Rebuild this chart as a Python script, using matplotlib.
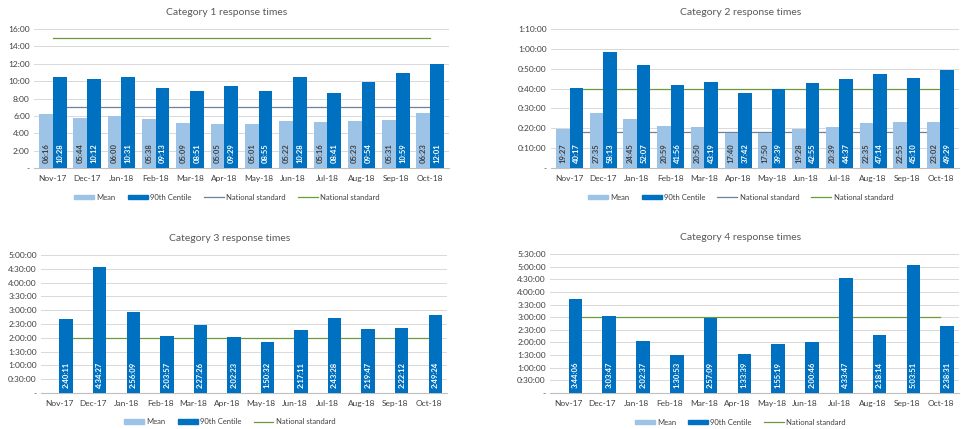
# coding: utf-8
# !/usr/bin/env python

import matplotlib
matplotlib.use("Agg")
import matplotlib.pyplot as plt
import matplotlib.patches as mpatches
import matplotlib.lines as mlines
import numpy as np

from matplotlib.ticker import FuncFormatter, MultipleLocator


# # # # # # # # # # # # # # # # # # # # # # # # # # # # # # # # # # # # # # #
# data
# # # # # # # # # # # # # # # # # # # # # # # # # # # # # # # # # # # # # # #
months = ["Nov-17", "Dec-17", "Jan-18", "Feb-18", "Mar-18", "Apr-18",
          "May-18", "Jun-18", "Jul-18", "Aug-18", "Sep-18", "Oct-18"]

cat1_mean = ["06:16", "05:44", "06:00", "05:38", "05:09", "05:05",
             "05:01", "05:22", "05:16", "05:23", "05:31", "06:23"]
cat1_p90 = ["10:28", "10:12", "10:31", "09:13", "08:51", "09:29",
            "08:55", "10:28", "08:41", "09:54", "10:59", "12:01"]
cat1_standards = ["7:00", "15:00"]

cat2_mean = ["19:27", "27:35", "24:45", "20:59", "20:50", "17:40",
             "17:50", "19:28", "20:39", "22:35", "22:55", "23:02"]
cat2_p90 = ["40:17", "58:13", "52:07", "41:56", "43:19", "37:42",
            "39:39", "42:55", "44:37", "47:14", "45:10", "49:29"]
cat2_standards = ["18:00", "40:00"]

cat3_p90 = ["2:40:11", "4:34:27", "2:56:09", "2:03:57", "2:27:26", "2:02:23",
            "1:50:32", "2:17:11", "2:43:28", "2:19:47", "2:22:12", "2:49:24"]
cat3_standards = ["2:00:00"]

cat4_p90 = ["3:44:06", "3:03:47", "2:02:37", "1:30:53", "2:57:09", "1:33:39",
            "1:55:19", "2:00:46", "4:33:47", "2:18:14", "5:03:51", "2:38:31"]
cat4_standards = ["3:00:00"]

LIGHT = "#9DC3E6"
DARK = "#0070C0"
GREY_LINE = "#6F819A"
GREEN_LINE = "#6A9A3A"
TEXT = "#595959"

plt.rcParams["font.family"] = ["Lato", "DejaVu Sans"]


# # # # # # # # # # # # # # # # # # # # # # # # # # # # # # # # # # # # # # #
# functions
# # # # # # # # # # # # # # # # # # # # # # # # # # # # # # # # # # # # # # #
def to_seconds(text):
    """Convert "mm:ss" or "h:mm:ss" to seconds."""
    total = 0
    for part in text.split(":"):
        total = total * 60 + int(part)
    return total


def fmt_ms(v, pos=None):
    if v <= 0:
        return "-"
    v = int(round(v))
    return "%d:%02d" % (v // 60, v % 60)


def fmt_hms(v, pos=None):
    if v <= 0:
        return "-"
    v = int(round(v))
    return "%d:%02d:%02d" % (v // 3600, (v // 60) % 60, v % 60)


def plot_panel(ax, title, mean, p90, standards, ymax, ystep, yfmt):
    """Draw one clustered bar chart with national standard lines."""
    x = np.arange(len(months))
    w = 0.4

    if mean is not None:
        mean_s = [to_seconds(v) for v in mean]
        ax.bar(x - w / 2, mean_s, w, color=LIGHT, zorder=3)
        for xi, lab in zip(x, mean):
            ax.annotate(lab, (xi - w / 2, 0), xytext=(0, 3.5),
                        textcoords="offset points", rotation=90,
                        ha="center", va="bottom", fontsize=5.5,
                        fontweight="bold", color="#404040", zorder=4)

    p90_s = [to_seconds(v) for v in p90]
    ax.bar(x + w / 2, p90_s, w, color=DARK, zorder=3)
    for xi, lab in zip(x, p90):
        ax.annotate(lab, (xi + w / 2, 0), xytext=(0, 3.5),
                    textcoords="offset points", rotation=90,
                    ha="center", va="bottom", fontsize=5.5,
                    fontweight="bold", color="white", zorder=4)

    colors = [GREY_LINE, GREEN_LINE] if len(standards) == 2 else [GREEN_LINE]
    for s, c in zip(standards, colors):
        ax.plot(x, [to_seconds(s)] * len(x), color=c, lw=0.9, zorder=2)

    ax.set_xlim(-0.55, 11.55)
    ax.set_ylim(0, ymax)
    ax.yaxis.set_major_locator(MultipleLocator(ystep))
    ax.yaxis.set_major_formatter(FuncFormatter(yfmt))
    ax.set_xticks(x)
    ax.set_xticklabels(months)
    ax.tick_params(length=0, labelsize=6, colors="#404040", pad=5)
    ax.tick_params(axis="y", pad=3)
    ax.grid(axis="y", color="#D9D9D9", lw=0.7, zorder=0)
    for side in ["top", "right", "left"]:
        ax.spines[side].set_visible(False)
    ax.spines["bottom"].set_color("#BFBFBF")

    ax.set_title(title, fontsize=7.5, color=TEXT, x=0.465, pad=10)

    handles = [mpatches.Patch(color=LIGHT, label="Mean"),
               mpatches.Patch(color=DARK, label="90th Centile")]
    for c in colors:
        handles.append(mlines.Line2D([], [], color=c, lw=0.9,
                                     label="National standard"))
    ax.legend(handles=handles, loc="center", bbox_to_anchor=(0.465, -0.21),
              ncol=len(handles), frameon=False, fontsize=5.5,
              handlelength=2.6, handleheight=0.6, columnspacing=1.6,
              handletextpad=0.3, labelcolor="#404040")


# # # # # # # # # # # # # # # # # # # # # # # # # # # # # # # # # # # # # # #
# main
# # # # # # # # # # # # # # # # # # # # # # # # # # # # # # # # # # # # # # #
def main():
    fig = plt.figure(figsize=(9.61, 4.29), dpi=100)
    W, H = 961.0, 429.0

    def axes_px(x0, x1, y0, y1):
        return fig.add_axes([x0 / W, 1 - y1 / H, (x1 - x0) / W, (y1 - y0) / H])

    ax1 = axes_px(34, 449, 29, 168)
    ax2 = axes_px(551, 959, 29, 168)
    ax3 = axes_px(41, 447, 255, 393)
    ax4 = axes_px(550, 959, 254, 393)

    plot_panel(ax1, "Category 1 response times", cat1_mean, cat1_p90,
               cat1_standards, 16 * 60, 120, fmt_ms)
    plot_panel(ax2, "Category 2 response times", cat2_mean, cat2_p90,
               cat2_standards, 70 * 60, 600, fmt_hms)
    plot_panel(ax3, "Category 3 response times", None, cat3_p90,
               cat3_standards, 5 * 3600, 1800, fmt_hms)
    plot_panel(ax4, "Category 4 response times", None, cat4_p90,
               cat4_standards, 5.5 * 3600, 1800, fmt_hms)

    fig.savefig("out.png", dpi=100)
    plt.close(fig)


if __name__ == '__main__':
    main()
